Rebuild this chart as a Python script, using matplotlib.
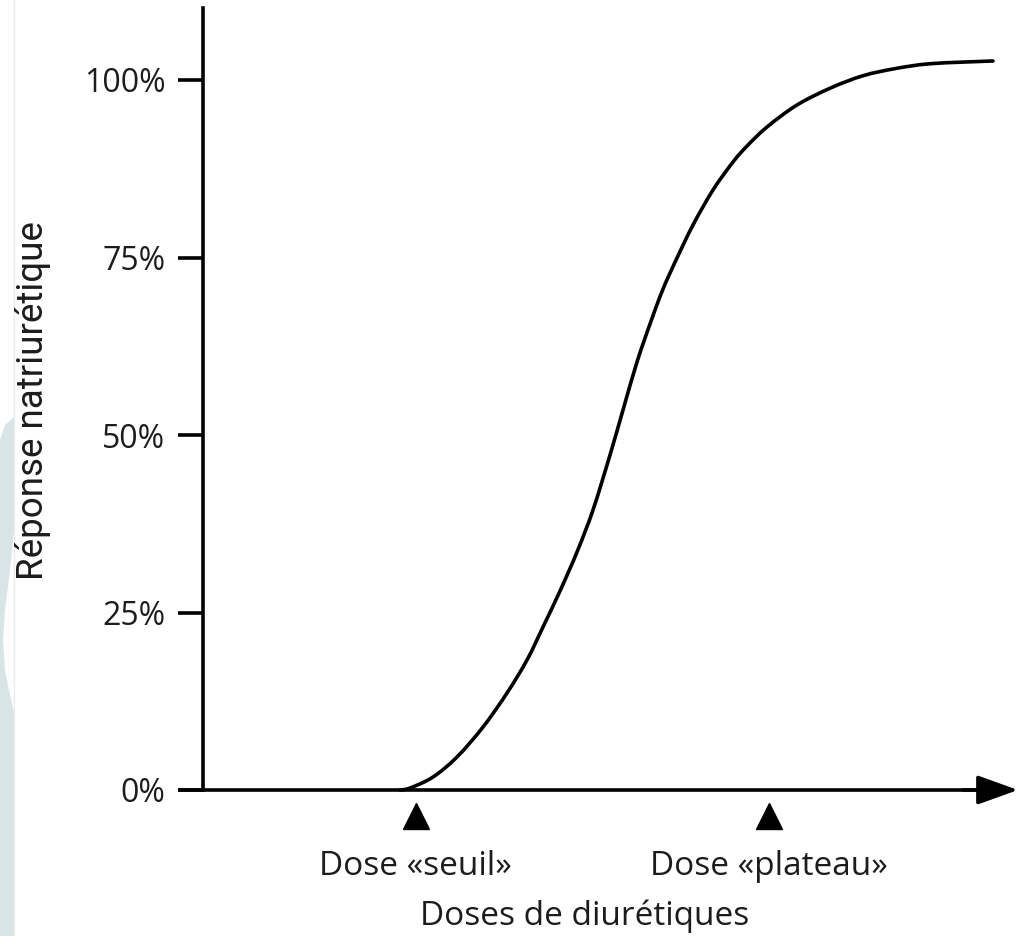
import matplotlib
matplotlib.use("Agg")
import matplotlib.pyplot as plt
from matplotlib.patches import Polygon, PathPatch
from matplotlib.path import Path
from matplotlib.transforms import IdentityTransform

# ---- data ----
dose = [24.625, 25.875, 28.75, 31.75, 35.0, 38.0, 40.5, 42.5, 44.625, 46.75,
        48.75, 50.875, 52.5, 54.25, 55.875, 57.5, 59.25, 61.25, 63.75, 66.25,
        68.0, 70.5, 74.25, 78.5, 82.5, 86.5, 91.0, 98.75]
response = [0.0, 0.28, 1.83, 4.65, 8.87, 13.66, 18.31, 22.96, 28.03, 33.52,
            39.44, 47.18, 53.52, 60.28, 65.63, 70.56, 74.93, 79.58, 84.51, 88.45,
            90.70, 93.38, 96.48, 98.9, 100.6, 101.6, 102.3, 102.68]
ytick_values = [0, 25, 50, 75, 100]
ytick_labels = ["0%", "25%", "50%", "75%", "100%"]
marker_doses = [26.6, 70.75]
marker_labels = ["Dose «seuil»", "Dose «plateau»"]
xlabel = "Doses de diurétiques"
ylabel = "Réponse natriurétique"

W, H = 1018, 936
TXT = "#1c1c1c"
SANS = ["Open Sans", "DejaVu Sans"]

fig = plt.figure(figsize=(W / 100, H / 100), dpi=100)
fig.patch.set_facecolor("white")

# background watermark (decoration on the left edge)
wm = [(0, 440), (5, 425), (14, 417), (14, 530), (10, 570), (5, 610), (3, 640),
      (5, 670), (10, 695), (14, 712), (14, 936), (0, 936)]
fig.add_artist(Polygon([(x, H - y) for x, y in wm], closed=True,
                       facecolor="#d8e5e7", edgecolor="none",
                       transform=IdentityTransform()))
fig.add_artist(plt.Line2D([14, 14], [0, H], color="#ebebeb", lw=1,
                          transform=IdentityTransform()))

ax = fig.add_axes([203 / W, 146 / H, 815 / W, 782 / H])
ax.set_xlim(0, 815 / 8)
ax.set_ylim(0, 782 / 7.1)
ax.set_facecolor("none")

for s in ["top", "right", "bottom"]:
    ax.spines[s].set_visible(False)
ax.spines["left"].set_linewidth(2.6)
ax.spines["left"].set_color("black")

ax.set_xticks([])
ax.set_yticks(ytick_values)
ax.set_yticklabels(ytick_labels, fontsize=23, family=SANS, color=TXT)
ax.tick_params(axis="y", length=18, width=2.6, pad=9, direction="out")

# x axis with arrow
ax.plot([-25 / 8, 780 / 8], [0, 0], color="black", lw=2.6, clip_on=False,
        solid_capstyle="butt")
ax.annotate("", xy=(815 / 8, 0), xytext=(760 / 8, 0),
            arrowprops=dict(arrowstyle="-|>,head_length=2.5,head_width=0.9",
                            mutation_scale=10, color="black", lw=2.6,
                            shrinkA=0, shrinkB=0),
            annotation_clip=False)

# curve: smooth path through the read points (Catmull-Rom drawn as Bezier)
pts = list(zip(dose, response))
verts = [pts[0]]
codes = [Path.MOVETO]
n = len(pts)
for i in range(n - 1):
    p0 = pts[i - 1] if i > 0 else pts[i]
    p1 = pts[i]
    p2 = pts[i + 1]
    p3 = pts[i + 2] if i + 2 < n else pts[i + 1]
    c1 = (p1[0] + (p2[0] - p0[0]) / 6, p1[1] + (p2[1] - p0[1]) / 6)
    c2 = (p2[0] - (p3[0] - p1[0]) / 6, p2[1] - (p3[1] - p1[1]) / 6)
    verts += [c1, c2, p2]
    codes += [Path.CURVE4] * 3
ax.add_patch(PathPatch(Path(verts, codes), facecolor="none", edgecolor="black",
                       lw=2.6, capstyle="round", joinstyle="round",
                       clip_on=False))

# markers and labels
ax.plot(marker_doses, [-3.7] * len(marker_doses), linestyle="none",
        marker="^", markersize=19, color="black", clip_on=False)
for d, lab in zip(marker_doses, marker_labels):
    ax.text(d, -11.97, lab, ha="center", va="baseline", fontsize=24,
            family=SANS, color=TXT, clip_on=False)

ax.text(585 / 8 - 203 / 8, -19.0, xlabel, ha="center", va="baseline",
        fontsize=24, family=SANS, color=TXT)

fig.text(33 / W, 1 - 401 / H, ylabel, rotation=90, ha="center", va="center",
         fontsize=26.5, family=["Roboto", "DejaVu Sans"], color=TXT)

fig.savefig("out.png", dpi=100)
